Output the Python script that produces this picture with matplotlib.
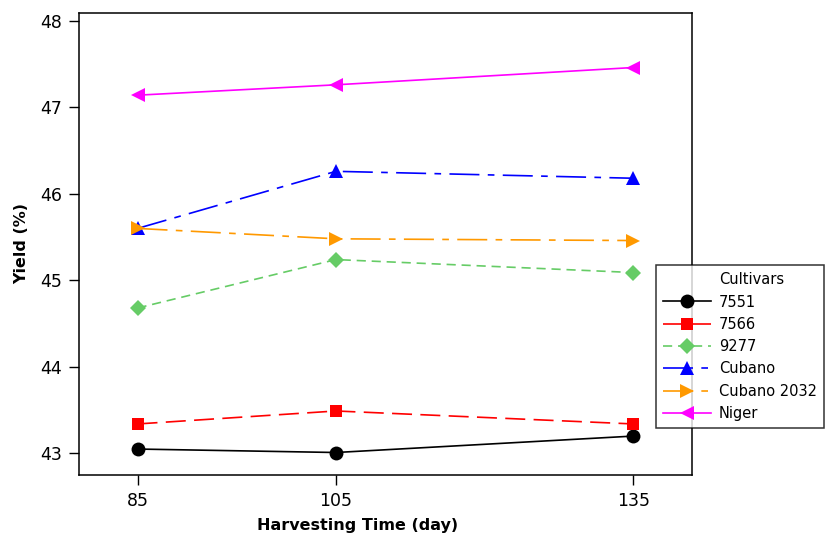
import matplotlib
matplotlib.use("Agg")
import matplotlib.pyplot as plt
from matplotlib.lines import Line2D

plt.rcParams['font.family'] = ['DejaVu Sans']

days = [85, 105, 135]
cultivars = ["7551", "7566", "9277", "Cubano", "Cubano 2032", "Niger"]
y_7551 = [43.05, 43.01, 43.20]
y_7566 = [43.34, 43.49, 43.34]
y_9277 = [44.68, 45.24, 45.09]
y_cubano = [45.60, 46.26, 46.18]
y_cubano2032 = [45.60, 45.48, 45.46]
y_niger = [47.14, 47.26, 47.46]
yticks = [43, 44, 45, 46, 47, 48]

series = [y_7551, y_7566, y_9277, y_cubano, y_cubano2032, y_niger]
colors = ["#000000", "#ff0000", "#66cc66", "#0000ff", "#ff9900", "#ff00ff"]
markers = ["o", "s", "D", "^", ">", "<"]
msizes = [10, 9, 8.5, 9.5, 10, 10]
styles = ["-", (0, (12, 5)), (0, (5.5, 3.5)), (0, (18, 5, 4, 5)), (0, (18, 5, 4, 5)), "-"]

fig = plt.figure(figsize=(8.25, 5.38), dpi=100)
ax = fig.add_axes([79/825, 1-475/538, (692-79)/825, (475-13)/538])

handles = []
for name, ys, c, m, ms, ls in zip(cultivars, series, colors, markers, msizes, styles):
    h, = ax.plot(days, ys, color=c, marker=m, markersize=ms, linestyle=ls,
                 linewidth=1.2, label=name, markeredgewidth=0)
    handles.append(h)

ax.set_xlim(79.1, 140.9)
ax.set_ylim(42.75, 48.09)
ax.set_xticks(days)
ax.set_yticks(yticks)
ax.tick_params(direction='out', length=7, width=1, labelsize=12.5, pad=5)
for s in ax.spines.values():
    s.set_linewidth(1.1)

ax.set_xlabel("Harvesting Time (day)", fontsize=11.5, fontweight='bold')
ax.xaxis.set_label_coords(0.454, -0.092)
ax.set_ylabel("Yield (%)", fontsize=11.5, fontweight='bold', labelpad=8)

title_handle = Line2D([], [], linestyle='none', marker='none')
leg = fig.legend([title_handle] + handles, ["Cultivars"] + cultivars,
                 loc='upper left', bbox_to_anchor=(656/825, 1-265/538),
                 fontsize=10.5, handlelength=3.3, handletextpad=0.5,
                 frameon=True, fancybox=False, edgecolor='black',
                 borderpad=0.5, labelspacing=0.5, borderaxespad=0)
leg.get_frame().set_linewidth(1.1)

fig.savefig("out.png", dpi=100)
